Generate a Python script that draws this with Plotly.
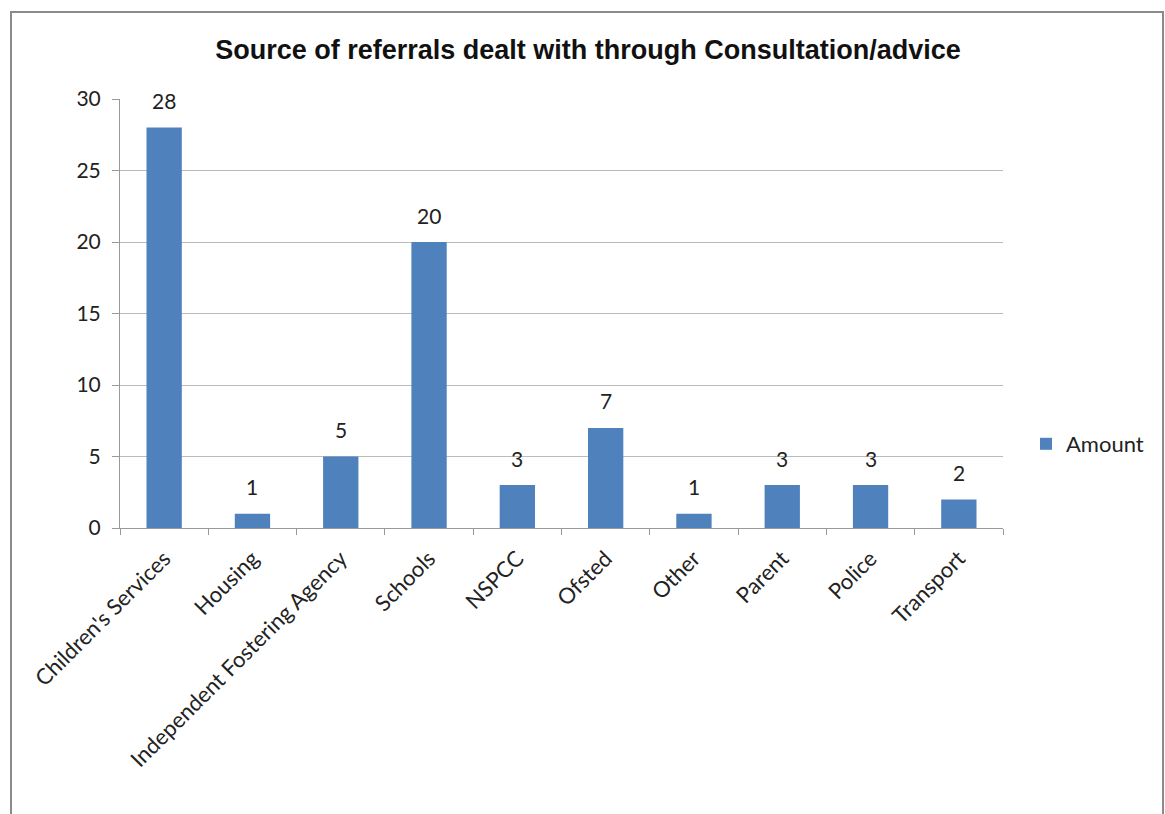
import plotly.graph_objects as go

categories = ["Children's Services", "Housing", "Independent Fostering Agency", "Schools",
              "NSPCC", "Ofsted", "Other", "Parent", "Police", "Transport"]
amounts = [28, 1, 5, 20, 3, 7, 1, 3, 3, 2]
series_name = "Amount"
title_text = "Source of referrals dealt with through Consultation/advice"

L, R, T, B = 120, 162, 99, 286
W, H = 1165, 814
pw, ph = W - L - R, H - T - B

def px_x(x):
    return (x - L) / pw

def px_y(y):
    return (H - B - y) / ph

FONT = "Lato, Open Sans, sans-serif"

fig = go.Figure()
fig.add_trace(go.Bar(
    x=categories, y=amounts, name=series_name,
    marker=dict(color="#4F81BD", line=dict(width=0)),
    showlegend=True,
))

for c, v in zip(categories, amounts):
    fig.add_annotation(x=c, y=v, text=str(v), showarrow=False,
                       yanchor="middle", yshift=27,
                       font=dict(family=FONT, size=21, color="#222"))

fig.update_layout(
    width=W, height=H,
    margin=dict(l=L, r=R, t=T, b=B),
    paper_bgcolor="white", plot_bgcolor="white",
    bargap=0.6,
    showlegend=True,
    legend=dict(x=px_x(1026), y=px_y(444), xanchor="left", yanchor="middle",
                font=dict(family=FONT, size=22, color="#222"),
                itemwidth=30),
    title=dict(text="<b>" + title_text + "</b>", x=px_x(588), xanchor="center",
               xref="paper", y=1 - 50 / H, yanchor="middle",
               font=dict(family="Liberation Sans, Arial, sans-serif", size=27, color="#111")),
    xaxis=dict(tickangle=-45, tickson="boundaries", ticks="outside", ticklen=6,
               tickcolor="#999", showline=True, linecolor="#999", linewidth=1,
               tickfont=dict(family=FONT, size=22, color="#222"),
               ticklabelstandoff=8,
               showgrid=False),
    yaxis=dict(range=[0, 30], dtick=5, ticks="outside", ticklen=7, tickcolor="#999",
               showline=True, linecolor="#999", linewidth=1,
               showgrid=True, gridcolor="#bbbbbb", gridwidth=1,
               tickfont=dict(family=FONT, size=21, color="#222"),
               ticklabelstandoff=7,
               zeroline=False),
    shapes=[dict(type="rect", xref="paper", yref="paper",
                 x0=px_x(11), x1=px_x(1163), y0=px_y(830), y1=px_y(12),
                 line=dict(color="#8a8a8a", width=2), layer="below")],
)

fig.write_html("out.html")
